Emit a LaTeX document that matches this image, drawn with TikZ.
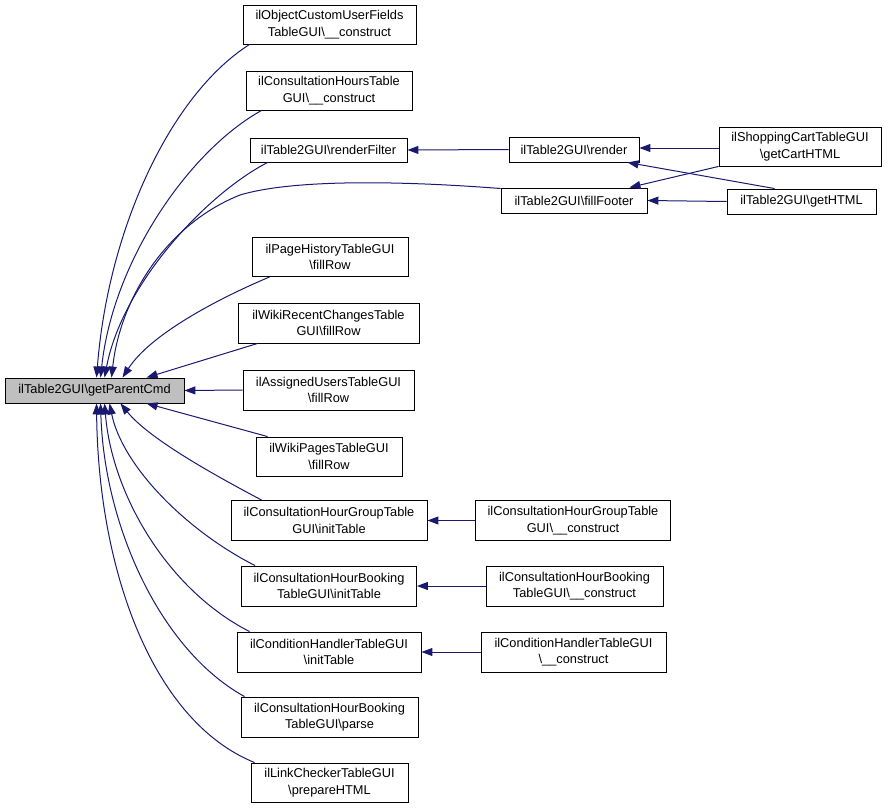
\documentclass[tikz,border=0pt]{standalone}
\usepackage{fontspec}
\setmainfont{Liberation Sans}
\usetikzlibrary{arrows.meta,calc}
\definecolor{edgec}{HTML}{191970}
\definecolor{mainfill}{HTML}{BFBFBF}
\newcommand{\bs}{\textbackslash}
\begin{document}
\begin{tikzpicture}[x=1pt,y=-1pt,
  box/.style={draw=black, line width=0.9pt, fill=white, inner sep=0pt, align=center,
    font=\fontsize{12.8}{16.5}\selectfont},
  edge/.style={draw=edgec, line width=1pt, -{Triangle[length=11pt,width=8pt]}},
]
\useasboundingbox (0,0) rectangle (888,808);
% main
\node[box, fill=mainfill, minimum width=179pt, minimum height=25pt] (main) at (94.5,390.5) {ilTable2GUI\bs getParentCmd};
% column 2
\node[box, minimum width=173pt, minimum height=39pt] (n1) at (329.5,24.5) {ilObjectCustomUserFields\\TableGUI\bs\_\_construct};
\node[box, minimum width=166pt, minimum height=39pt] (n2) at (329,90.5) {ilConsultationHoursTable\\GUI\bs\_\_construct};
\node[box, minimum width=157pt, minimum height=24pt] (n3) at (328.5,150) {ilTable2GUI\bs renderFilter};
\node[box, minimum width=156pt, minimum height=39pt] (n4) at (330,257) {ilPageHistoryTableGUI\\\bs fillRow};
\node[box, minimum width=181pt, minimum height=40pt] (n5) at (328.5,323) {ilWikiRecentChangesTable\\GUI\bs fillRow};
\node[box, minimum width=171pt, minimum height=40pt] (n6) at (328.5,390) {ilAssignedUsersTableGUI\\\bs fillRow};
\node[box, minimum width=146pt, minimum height=39pt] (n7) at (329,456.5) {ilWikiPagesTableGUI\\\bs fillRow};
\node[box, minimum width=196pt, minimum height=40pt] (n8) at (329,520.5) {ilConsultationHourGroupTable\\GUI\bs initTable};
\node[box, minimum width=175pt, minimum height=40pt] (n9) at (329,586) {ilConsultationHourBooking\\TableGUI\bs initTable};
\node[box, minimum width=184pt, minimum height=40pt] (n10) at (329,652) {ilConditionHandlerTableGUI\\\bs initTable};
\node[box, minimum width=177pt, minimum height=40pt] (n11) at (329.5,717) {ilConsultationHourBooking\\TableGUI\bs parse};
\node[box, minimum width=157pt, minimum height=39pt] (n12) at (329.5,782.5) {ilLinkCheckerTableGUI\\\bs prepareHTML};
% column 3
\node[box, minimum width=130pt, minimum height=25pt] (render) at (574,149.5) {ilTable2GUI\bs render};
\node[box, minimum width=146pt, minimum height=25pt] (footer) at (574,200.5) {ilTable2GUI\bs fillFooter};
\node[box, minimum width=195pt, minimum height=40pt] (c8) at (573,520.5) {ilConsultationHourGroupTable\\GUI\bs\_\_construct};
\node[box, minimum width=177pt, minimum height=40pt] (c9) at (574.5,586) {ilConsultationHourBooking\\TableGUI\bs\_\_construct};
\node[box, minimum width=185pt, minimum height=40pt] (c10) at (573.5,652) {ilConditionHandlerTableGUI\\\bs\_\_construct};
% column 4
\node[box, minimum width=162pt, minimum height=39pt] (cart) at (800,146.5) {ilShoppingCartTableGUI\\\bs getCartHTML};
\node[box, minimum width=149pt, minimum height=25pt] (gethtml) at (801.5,201.5) {ilTable2GUI\bs getHTML};

% edges into main (top)
\draw[edge] ($(n1.south west)+(7,0)$) .. controls (170,95) and (108,230) .. ($(main.north west)+(92,0)$);
\draw[edge] ($(n2.south west)+(16,0)$) .. controls (190,150) and (113,260) .. ($(main.north west)+(96,0)$);
\draw[edge] ($(n3.south west)+(18,0)$) .. controls (205,195) and (122,285) .. ($(main.north west)+(100,0)$);
\draw[edge] ($(footer.west)+(0,-12)$) .. controls (390,180) and (290,180) .. (240,195) .. controls (165,225) and (120,300) .. ($(main.north west)+(107,0)$);
\draw[edge] ($(n4.south west)+(18,0)$) .. controls (215,300) and (150,335) .. ($(main.north west)+(118,0)$);
\draw[edge] ($(n5.south west)+(20,0)$) -- ($(main.north west)+(142,0)$);
\draw[edge] (n6.west) -- (main.east);
% edges into main (bottom)
\draw[edge] ($(n7.north west)+(12,0)$) -- ($(main.south west)+(142,0)$);
\draw[edge] ($(n8.north west)+(31,0)$) .. controls (220,478) and (150,440) .. ($(main.south west)+(116,0)$);
\draw[edge] ($(n9.north west)+(14,0)$) .. controls (185,530) and (122,465) .. ($(main.south west)+(105,0)$);
\draw[edge] ($(n10.north west)+(13,0)$) .. controls (168,590) and (112,495) .. ($(main.south west)+(100,0)$);
\draw[edge] ($(n11.north west)+(4,0)$) .. controls (160,650) and (104,525) .. ($(main.south west)+(96,0)$);
\draw[edge] ($(n12.north west)+(4,0)$) .. controls (150,720) and (98,565) .. ($(main.south west)+(92,0)$);
% other edges
\draw[edge] (render.west) -- (n3.east);
\draw[edge] ($(cart.west)+(0,1.5)$) -- ($(render.east)+(0,-1.5)$);
\draw[edge] (cart.south west) -- ($(footer.north east)+(-18,0)$);
\draw[edge] ($(gethtml.north west)+(48,0)$) -- ($(render.south east)+(-12,0)$);
\draw[edge] (gethtml.west) -- (footer.east);
\draw[edge] (c8.west) -- (n8.east);
\draw[edge] (c9.west) -- (n9.east);
\draw[edge] (c10.west) -- (n10.east);
\end{tikzpicture}
\end{document}
